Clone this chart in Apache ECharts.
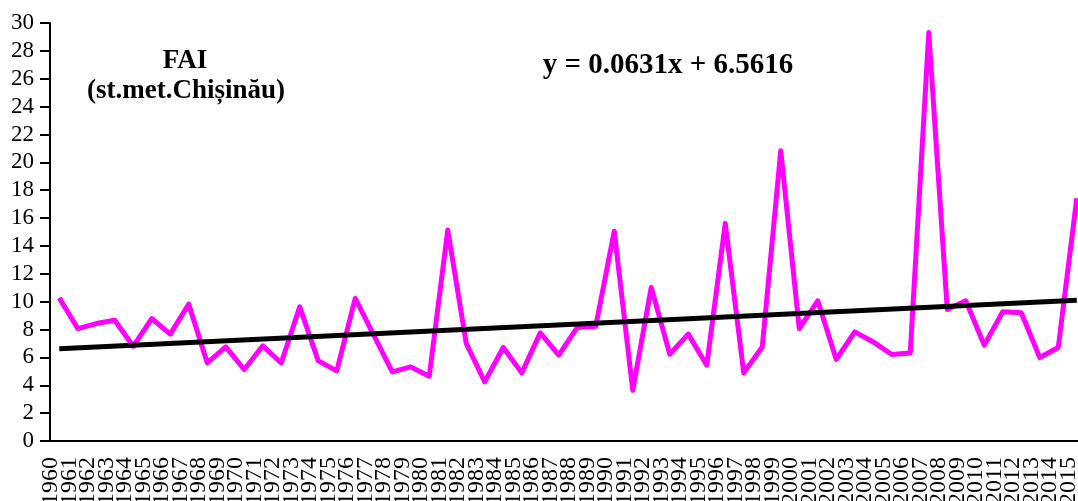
<!DOCTYPE html>
<html>
<head>
<meta charset="utf-8">
<script src="https://cdn.jsdelivr.net/npm/echarts@6/dist/echarts.min.js"></script>
<style>
  html, body { margin: 0; padding: 0; background: #fff; }
  #chart { width: 1078px; height: 501px; }
</style>
</head>
<body>
<div id="chart"></div>
<script>
// ani 1960-2015
const years = [];
for (let y = 1960; y <= 2015; y++) years.push(String(y));

// valorile FAI
const faiValues = [
  10.27, 8.07, 8.43, 8.67, 6.80, 8.79, 7.67, 9.82, 5.60, 6.75,
  5.13, 6.83, 5.60, 9.63, 5.75, 5.03, 10.23, 7.59, 4.96, 5.32,
  4.65, 15.14, 7.00, 4.24, 6.71, 4.89, 7.76, 6.16, 8.15, 8.24,
  15.05, 3.64, 11.02, 6.23, 7.67, 5.44, 15.62, 4.89, 6.75, 20.83,
  8.07, 10.06, 5.85, 7.83, 7.11, 6.21, 6.32, 29.31, 9.44, 10.06,
  6.88, 9.27, 9.20, 5.99, 6.71, 17.41
];

// capetele dreptei de trend (y = 0.0631x + 6.5616)
const trendYears = ['1960', '2015'];
const trendValues = [6.62, 10.10];

const yTicks = { min: 0, max: 30, step: 2 };

const serif = 'Liberation Serif';
const chart = echarts.init(document.getElementById('chart'));

chart.setOption({
  animation: false,
  backgroundColor: '#fff',
  title: [
    {
      text: 'FAI',
      left: 180, top: 43, textAlign: 'center',
      textStyle: { fontFamily: serif, fontWeight: 'bold', fontSize: 27, color: '#000' }
    },
    {
      text: '(st.met.Chișinău)',
      left: 181, top: 73, textAlign: 'center',
      textStyle: { fontFamily: serif, fontWeight: 'bold', fontSize: 27, color: '#000' }
    },
    {
      text: 'y = 0.0631x + 6.5616',
      left: 663, top: 46, textAlign: 'center',
      textStyle: { fontFamily: serif, fontWeight: 'bold', fontSize: 29, color: '#000' }
    }
  ],
  // axa x iese putin din imagine la dreapta, ca in original
  grid: { left: 50, top: 23, width: 1036, height: 418, outerBoundsMode: 'none' },
  xAxis: {
    type: 'category',
    data: years,
    boundaryGap: true,
    axisLine: { lineStyle: { color: '#000', width: 2 } },
    axisTick: { interval: 0, length: 10, lineStyle: { color: '#000', width: 2 } },
    axisLabel: {
      interval: 0,
      rotate: 90,
      margin: 16,
      verticalAlign: 'bottom',
      lineHeight: 17,
      fontFamily: serif,
      fontSize: 24,
      color: '#000'
    },
    splitLine: { show: false }
  },
  yAxis: {
    type: 'value',
    min: yTicks.min,
    max: yTicks.max,
    interval: yTicks.step,
    axisLine: { show: true, lineStyle: { color: '#000', width: 2 } },
    axisTick: { show: true, length: 10, lineStyle: { color: '#000', width: 2 } },
    axisLabel: { margin: 16, fontFamily: serif, fontSize: 23, color: '#000' },
    splitLine: { show: false }
  },
  series: [
    {
      name: 'FAI',
      type: 'line',
      data: faiValues,
      symbol: 'none',
      lineStyle: { color: '#FF00FF', width: 5, join: 'round' },
      z: 2
    },
    {
      name: 'trend',
      type: 'line',
      data: trendYears.map((y, i) => [y, trendValues[i]]),
      symbol: 'none',
      lineStyle: { color: '#000', width: 5 },
      z: 3
    }
  ]
});
</script>
</body>
</html>
